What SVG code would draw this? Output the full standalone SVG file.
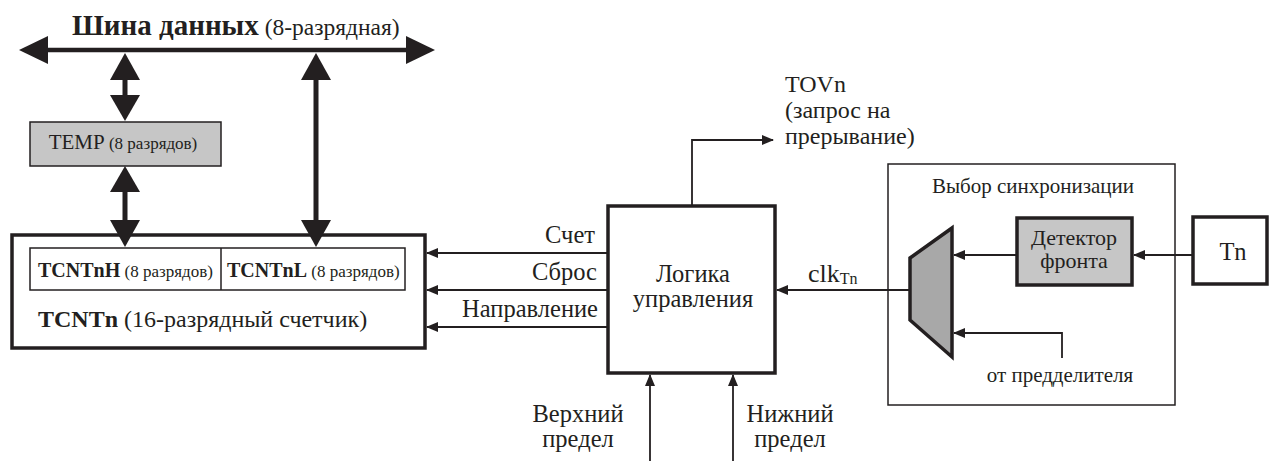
<svg xmlns="http://www.w3.org/2000/svg" width="1269" height="461" viewBox="0 0 1269 461">
<style>
text{font-family:"Liberation Serif","Times New Roman",serif;fill:#231f20}
.l{font-size:24.5px}
.s{font-size:17px}
.b{font-weight:bold}
.box{fill:#fff;stroke:#231f20;stroke-width:3.5}
.thin{fill:#fff;stroke:#231f20;stroke-width:1.5}
.w{fill:none;stroke:#231f20;stroke-width:1.8}
.bus{fill:none;stroke:#231f20;stroke-width:4.5}
.head{fill:#231f20}
</style>
<defs>
<marker id="a" markerWidth="12" markerHeight="10" refX="11" refY="5" orient="auto" markerUnits="userSpaceOnUse">
<path d="M0,0 L12,5 L0,10 Z" fill="#231f20"/>
</marker>
</defs>
<rect width="1269" height="461" fill="#fff"/>

<g id="bus">
<text x="72" y="35"><tspan class="b" font-size="29px">Шина данных</tspan><tspan font-size="23.5px"> (8-разрядная)</tspan></text>
<line x1="44" y1="50" x2="410" y2="50" class="bus"/>
<polygon class="head" points="19,50 48,36 48,64"/>
<polygon class="head" points="435,50 406,36 406,64"/>
</g>

<g id="temp">
<rect x="30" y="122" width="191" height="44" class="thin" style="fill:#c6c6c6"/>
<text x="123" y="149" text-anchor="middle"><tspan font-size="21px">TEMP</tspan><tspan class="s"> (8 разрядов)</tspan></text>
</g>

<g id="tcntn">
<rect x="12" y="235" width="413" height="113" class="box"/>
<rect x="30" y="248" width="375" height="42" class="thin"/>
<line x1="221" y1="248" x2="221" y2="290" stroke="#231f20" stroke-width="1.5"/>
<text x="38" y="277"><tspan class="b" font-size="20px">TCNTnH</tspan><tspan class="s"> (8 разрядов)</tspan></text>
<text x="227" y="277"><tspan class="b" font-size="20px">TCNTnL</tspan><tspan class="s"> (8 разрядов)</tspan></text>
<text x="38" y="327" font-size="24px"><tspan class="b">TCNTn</tspan> (16-разрядный счетчик)</text>
</g>

<g id="logic">
<rect x="608" y="206" width="167" height="167" class="box"/>
<text x="693" y="282" class="l" text-anchor="middle">Логика</text>
<text x="693" y="307" class="l" text-anchor="middle">управления</text>
</g>

<g id="sync">
<rect x="888" y="164" width="287" height="241" class="thin"/>
<text x="1033" y="193" font-size="21px" text-anchor="middle">Выбор синхронизации</text>
<text x="1060" y="382" font-size="21px" text-anchor="middle">от предделителя</text>
</g>

<g id="detector">
<rect x="1017" y="218" width="115" height="67" class="box" style="fill:#c6c6c6"/>
<text x="1074" y="245" font-size="22px" text-anchor="middle">Детектор</text>
<text x="1074" y="268" font-size="22px" text-anchor="middle">фронта</text>
</g>

<g id="mux">
<polygon points="910,258 952,228 952,357 910,320" class="box" style="fill:#a8a8a8"/>
</g>

<g id="tn">
<rect x="1193" y="217" width="74" height="67" class="box"/>
<text x="1233" y="260" class="l" text-anchor="middle">Tn</text>
</g>

<g id="labels">
<text x="785" y="92" font-size="24px">TOVn</text>
<text x="785" y="118" font-size="24px">(запрос на</text>
<text x="785" y="144" font-size="24px">прерывание)</text>
<text x="595" y="243" class="l" text-anchor="end">Счет</text>
<text x="597" y="280" class="l" text-anchor="end">Сброс</text>
<text x="598" y="317" class="l" text-anchor="end">Направление</text>
<text x="808" y="282" font-size="26px">clk<tspan font-size="16px" dy="2">Tn</tspan></text>
<text x="578" y="422" class="l" text-anchor="middle">Верхний</text>
<text x="578" y="447" class="l" text-anchor="middle">предел</text>
<text x="790" y="422" class="l" text-anchor="middle">Нижний</text>
<text x="790" y="447" class="l" text-anchor="middle">предел</text>
</g>

<g id="connectors">
<g class="head">
<rect x="122.5" y="78" width="5" height="19"/>
<polygon points="125,53 110,80 140,80"/>
<polygon points="125,121 110,95 140,95"/>
<rect x="122.5" y="190" width="5" height="32"/>
<polygon points="125,166 110,192 140,192"/>
<polygon points="125,247 110,220 140,220"/>
<rect x="313.5" y="78" width="5" height="144"/>
<polygon points="316,53 301,80 331,80"/>
<polygon points="316,247 301,220 331,220"/>
</g>
<line x1="608" y1="253" x2="427" y2="253" class="w" marker-end="url(#a)"/>
<line x1="608" y1="290" x2="427" y2="290" class="w" marker-end="url(#a)"/>
<line x1="608" y1="327" x2="427" y2="327" class="w" marker-end="url(#a)"/>
<path d="M692,206 V140 H773" class="w" marker-end="url(#a)"/>
<line x1="910" y1="290" x2="777" y2="290" class="w" marker-end="url(#a)"/>
<line x1="1193" y1="255" x2="1134" y2="255" class="w" marker-end="url(#a)"/>
<line x1="1017" y1="255" x2="954" y2="255" class="w" marker-end="url(#a)"/>
<path d="M1062,358 V333 H954" class="w" marker-end="url(#a)"/>
<line x1="650" y1="461" x2="650" y2="375" class="w" marker-end="url(#a)"/>
<line x1="733" y1="461" x2="733" y2="375" class="w" marker-end="url(#a)"/>
</g>
</svg>
